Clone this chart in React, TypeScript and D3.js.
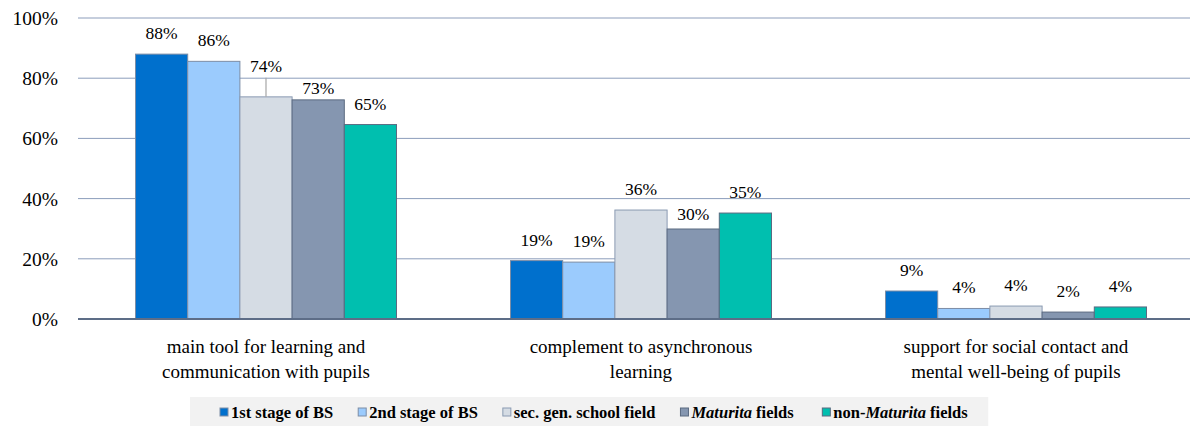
import React from "react";
import * as d3 from "d3";

const categories = [
  ["main tool for learning and", "communication with pupils"],
  ["complement to asynchronous", "learning"],
  ["support for social contact and", "mental well-being of pupils"],
];
const seriesNames = [
  "1st stage of BS",
  "2nd stage of BS",
  "sec. gen. school field",
  "Maturita fields",
  "non-Maturita fields",
];
const stage1 = [88.0, 19.4, 9.3];
const stage2 = [85.6, 18.9, 3.5];
const secGen = [73.8, 36.2, 4.3];
const maturita = [72.8, 29.9, 2.3];
const nonMaturita = [64.6, 35.2, 4.0];
const yTicks = [0, 20, 40, 60, 80, 100];

const seriesValues = [stage1, stage2, secGen, maturita, nonMaturita];
const fills = ["#0070CD", "#9BCBFD", "#D5DCE4", "#8596B0", "#00BFAF"];
const strokes = ["#7c8da6", "#7c8da6", "#8a9ab2", "#5b6a80", "#5b6a80"];

const W = 1190;
const H = 426;
const FONT = "Liberation Serif, Times New Roman, DejaVu Serif, serif";

function measure(text: string, font: string) {
  const c = document.createElement("canvas");
  const ctx = c.getContext("2d")!;
  ctx.font = font;
  return ctx.measureText(text).width;
}

export default function App() {
  const x0 = d3
    .scaleBand<number>()
    .domain([0, 1, 2])
    .range([78.5, 1203.5])
    .paddingInner(0.304)
    .paddingOuter(0.152);
  const x1 = d3
    .scaleBand<number>()
    .domain(d3.range(seriesNames.length))
    .range([0, x0.bandwidth()]);
  const y = d3.scaleLinear().domain([0, 100]).range([319, 18]);

  // label nudges (px) relative to default placement, [series][category]
  const labelLift = (s: number, c: number) => {
    if (s === 2 && c === 0) return 10; // 74% lifted with leader line
    if (s === 3 && c === 0) return -9;
    if (s === 3 && c === 1) return -6;
    return 0;
  };

  const legendFontSize = 16.5;
  const legendFont = `bold ${legendFontSize}px "Liberation Serif"`;
  const legendItems: { x: number; name: string }[] = [];
  let lx = 220;
  seriesNames.forEach((n) => {
    legendItems.push({ x: lx, name: n });
    lx += 11 + measure(n, legendFont) + 25;
  });

  const txt = { fontFamily: FONT } as React.CSSProperties;

  return (
    <div style={{ position: "absolute", left: 0, top: 0 }}>
      <svg width={W} height={H} style={{ display: "block", background: "#fff", fontFamily: FONT }}>
        {yTicks.map((t) => (
          <g key={t}>
            {t > 0 && (
              <line x1={78} x2={W} y1={y(t)} y2={y(t)} stroke="#8c9dbb" strokeWidth={1} />
            )}
            <text x={58} y={y(t) + 7} textAnchor="end" style={txt} fontSize={19.5} fill="#000">
              {t}%
            </text>
          </g>
        ))}
        {categories.map((cat, c) => (
          <g key={c} transform={`translate(${x0(c)},0)`}>
            {seriesValues.map((vals, s) => {
              const v = vals[c];
              const bx = x1(s)!;
              const bw = x1.bandwidth();
              const top = y(v);
              const lift = labelLift(s, c);
              const ly = top - 15 - lift;
              return (
                <g key={s}>
                  <rect
                    x={bx}
                    y={top}
                    width={bw}
                    height={y(0) - top}
                    fill={fills[s]}
                    stroke={strokes[s]}
                    strokeWidth={1}
                  />
                  {lift > 0 && (
                    <line
                      x1={bx + bw / 2}
                      x2={bx + bw / 2}
                      y1={ly + 6}
                      y2={top}
                      stroke="#a6a6a6"
                      strokeWidth={1.2}
                    />
                  )}
                  <text
                    x={bx + bw / 2}
                    y={ly}
                    textAnchor="middle"
                    style={txt}
                    fontSize={17.5}
                    fill="#000"
                  >
                    {Math.round(v)}%
                  </text>
                </g>
              );
            })}
          </g>
        ))}
        <line x1={78} x2={W} y1={y(0)} y2={y(0)} stroke="#5d6d87" strokeWidth={2} />
        {categories.map((cat, c) => (
          <text
            key={c}
            x={x0(c)! + x0.bandwidth() / 2}
            textAnchor="middle"
            style={txt}
            fontSize={19}
            fill="#000"
          >
            {cat.map((line, i) => (
              <tspan key={i} x={x0(c)! + x0.bandwidth() / 2} y={353 + i * 25}>
                {line}
              </tspan>
            ))}
          </text>
        ))}
        <rect x={190} y={397} width={lx - 190 - 8} height={29} fill="#f2f2f2" />
        {legendItems.map((it, s) => (
          <g key={s}>
            <rect
              x={it.x}
              y={408}
              width={8}
              height={8}
              fill={fills[s]}
              stroke={strokes[s]}
              strokeWidth={1}
            />
            <text
              x={it.x + 11}
              y={418}
              style={txt}
              fontSize={legendFontSize}
              fontWeight="bold"
              fill="#000"
            >
              {s === 3 ? (
                <>
                  <tspan fontStyle="italic">Maturita</tspan> fields
                </>
              ) : s === 4 ? (
                <>
                  non-<tspan fontStyle="italic">Maturita</tspan> fields
                </>
              ) : (
                it.name
              )}
            </text>
          </g>
        ))}
      </svg>
    </div>
  );
}
